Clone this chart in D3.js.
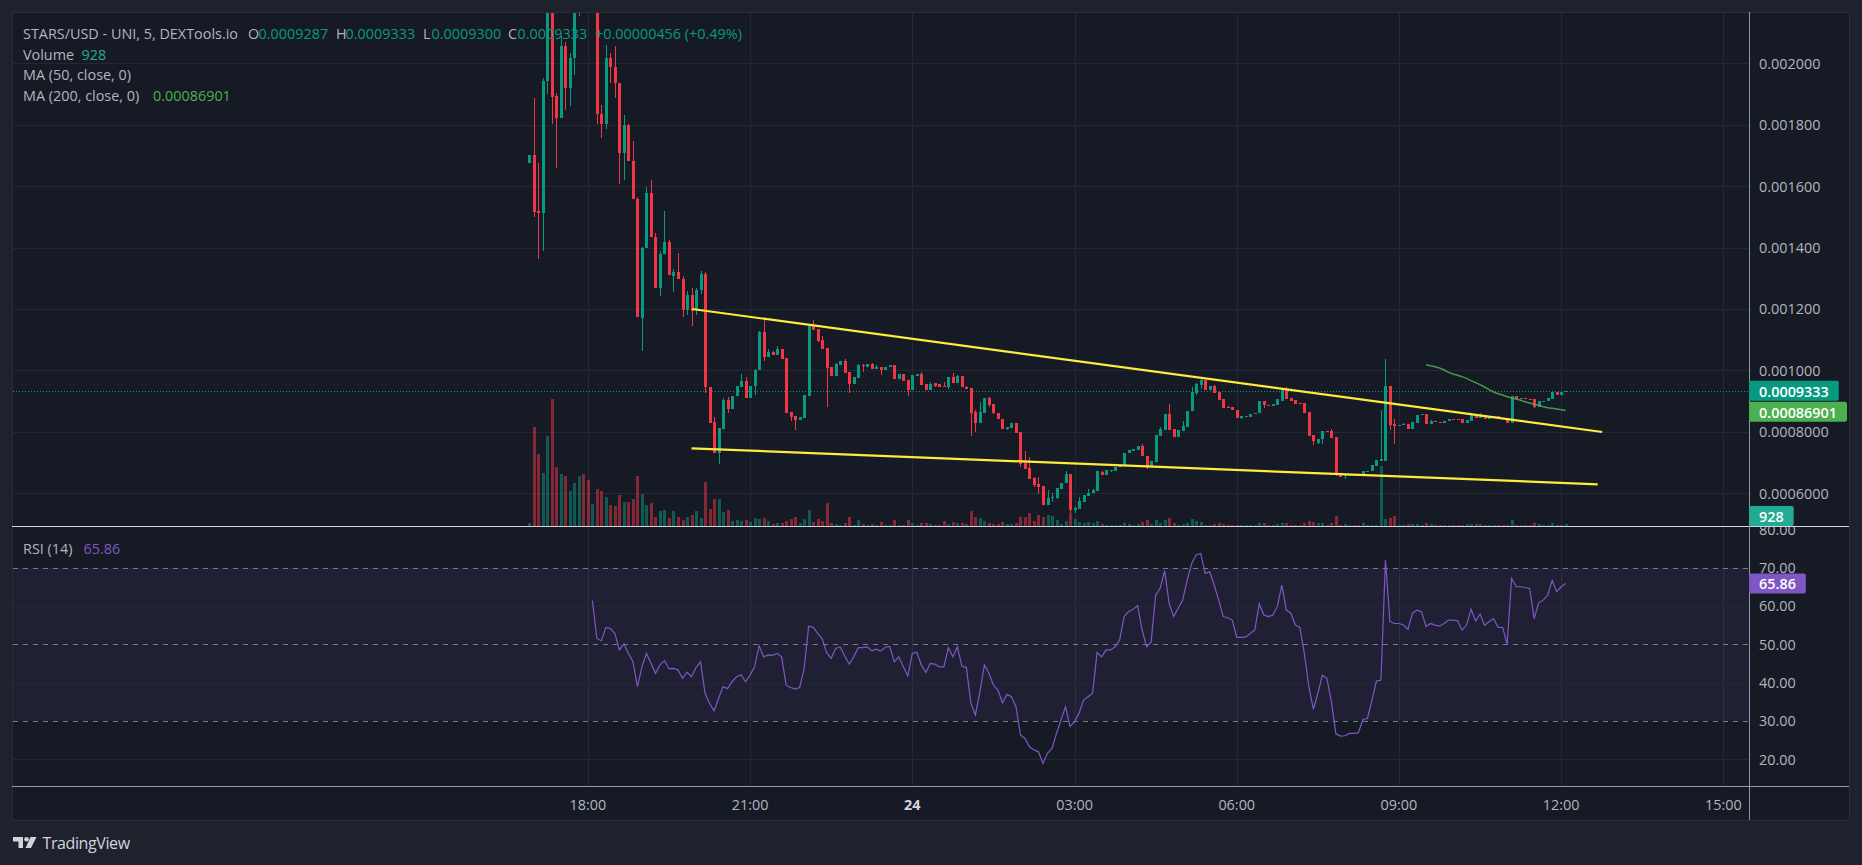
<!DOCTYPE html>
<html><head><meta charset="utf-8">
<script src="https://cdn.jsdelivr.net/npm/d3@7"></script>
<style>
html,body{margin:0;padding:0;background:#1e222d;overflow:hidden}
svg{display:block}
text{font-family:"Open Sans",Roboto,"Noto Sans",sans-serif}
</style></head><body>
<svg id="c" width="1862" height="865"></svg>
<script>
// ---------------- DATA ----------------
// prices are in millionths of USD (e.g. 1677 = 0.001677)
const PRICE_UNIT = 1e-6;
const symbolTitle = "STARS/USD - UNI, 5, DEXTools.io";
const legendOHLC = [["O","0.0009287"],["H","0.0009333"],["L","0.0009300"],["C","0.0009333"]];
const legendChange = "+0.00000456 (+0.49%)";
const volumeLast = "928";
const maLegends = ["MA (50, close, 0)", "MA (200, close, 0)"];
const maLastLabel = "0.00086901";
const rsiLegend = "RSI (14)";
const rsiLastLabel = "65.86";
const lastPriceLabel = "0.0009333";
const lastPrice = 933.3;

const startTime = new Date(2024,0,23,16,55);
const barMinutes = 5;

const open = [
1677,1701,1520,1511,1942,2230,1895,1821,2058,1921,
2018,2200,2320,2260,2210,2240,1836,1801,2018,1989,
1937,1707,1799,1682,1558,1171,1400,1579,1433,1269,
1379,1417,1308,1321,1299,1196,1245,1196,1261,1313,
946,831,731,810,903,874,916,946,966,911,
949,1000,1125,1044,1059,1050,1068,1039,864,851,
838,845,916,1144,1133,1098,1071,1009,981,1018,
1030,994,955,975,1018,1009,1020,1004,1012,1001,
1010,1016,972,988,968,936,981,988,955,936,
958,955,948,946,979,959,981,946,942,864,
829,862,910,890,860,842,809,812,827,799,
699,681,649,629,623,562,585,584,614,632,
662,544,549,571,590,599,605,670,660,671,
673,684,690,729,738,740,753,721,684,701,
786,805,857,809,784,803,816,866,927,953,
968,936,949,929,905,881,879,872,846,849,
849,857,860,901,887,883,888,901,938,909,
903,892,892,864,790,762,775,803,803,784,
662,655,655,660,660,655,670,671,688,705,
705,949,825,818,821,825,810,829,853,857,
825,834,831,829,834,840,840,840,829,836,
857,846,853,842,849,851,844,844,829,916,
907,909,907,905,881,899,899,907.5,929,920.5,
928.7];
const high = [
1701,1888,1676,1953,2290,2260,1904,2090,2071,2035,
2230,2350,2400,2310,2270,2250,1864,2060,2033,2056,
1937,1832,1803,1747,1565,1402,1598,1620,1448,1390,
1519,1424,1330,1383,1307,1258,1267,1269,1323,1320,
946,849,812,908,912,916,949,988,977,949,
1003,1127,1170,1068,1062,1079,1068,1039,864,851,
848,918,1144,1164,1133,1112,1071,1009,1025,1031,
1037,994,977,1020,1020,1020,1024,1017,1012,1012,
1018,1016,988,988,968,983,988,994,955,962,
960,955,962,977,991,986,981,949,942,870,
896,910,914,890,860,842,814,827,827,799,
738,716,653,653,623,610,599,616,634,671,
662,558,586,594,614,614,671,671,675,676,
686,692,729,740,744,753,760,721,703,790,
814,857,890,809,805,836,868,944,957,973,
968,949,953,929,905,883,879,872,851,851,
857,862,901,901,887,890,907,938,947,909,
903,892,892,864,790,777,801,803,810,784,
662,660,660,660,660,671,673,690,708,871,
1038,949,840,821,829,825,831,853,857,857,
837,834,831,836,840,840,840,840,838,862,
859,862,853,849,851,851,844,844,916,916,
909,909,907,905,899,901,910,929,929,929,
933.3];
const low = [
1677,1500,1364,1389,1899,1804,1658,1821,1847,1862,
1962,2156,2240,2190,2180,1802,1756,1786,1935,1886,
1606,1620,1682,1558,1174,1064,1400,1433,1269,1243,
1379,1310,1254,1296,1174,1180,1144,1180,1250,925,
829,731,694,810,862,874,916,946,911,911,
920,1000,1031,1044,1050,1050,1038,862,836,805,
838,845,916,1131,1092,1069,881,981,981,1018,
992,925,955,975,995,1009,1004,1004,985,1001,
1010,972,972,966,916,936,981,953,936,936,
946,946,944,940,959,959,944,940,787,799,
829,862,881,857,842,808,806,812,797,684,
677,647,621,597,562,562,571,579,614,632,
534,536,549,571,590,599,605,658,660,669,
673,684,690,729,738,740,719,677,684,701,
786,805,805,784,784,803,816,866,918,940,
936,936,927,903,877,877,870,844,842,849,
849,857,860,877,883,883,888,901,905,901,
890,890,862,786,758,760,760,799,779,655,
653,647,655,658,658,655,670,671,688,705,
705,805,760,818,821,810,810,829,853,825,
825,831,829,828,834,838,838,829,827,836,
844,846,842,842,849,842,840,829,829,905,
907,905,903,877,881,899,899,907.5,920.5,920.5,
928.7];
const close = [
1701,1517,1511,1942,2230,1891,1821,2058,1921,2018,
2200,2320,2260,2210,2240,1834,1801,2018,1987,1935,
1707,1799,1682,1558,1174,1400,1579,1433,1269,1379,
1417,1310,1321,1296,1196,1245,1194,1261,1313,946,
829,731,812,903,874,916,949,966,911,949,
1001,1125,1044,1059,1050,1068,1038,862,848,838,
848,918,1144,1131,1095,1069,1007,981,1020,1031,
992,955,977,1017,1014,1020,1004,1012,1001,1012,
1018,972,988,966,936,983,988,953,936,955,
950,946,944,977,959,981,944,940,862,829,
864,910,888,860,842,809,814,827,797,695,
677,647,625,619,562,584,588,616,634,662,
544,551,573,594,601,610,671,660,675,675,
686,692,729,740,744,753,719,681,703,790,
810,857,805,784,805,818,868,929,955,968,
936,949,927,903,877,877,870,844,851,851,
857,862,901,886,883,890,905,938,905,901,
890,890,862,786,771,775,801,799,779,658,
653,658,659,658,658,671,673,690,708,710,
949,822,818,821,825,810,831,853,857,825,
836,831,829,836,840,838,838,829,838,857,
844,853,842,849,851,842,840,829,916,905,
909,905,903,881,899,901,910,929,920.5,929,
933.3];
const volume = [
1200,39600,28800,21200,36000,50800,23600,20800,20000,14000,
17200,20000,20800,18400,8800,14800,14000,11600,8400,8000,
12400,9600,9600,10800,20000,12800,8400,9200,3600,6000,
6400,3200,6000,3600,2400,3600,4400,6000,3200,17600,
6800,10800,10800,5600,6400,2000,2400,2000,2400,1600,
3200,2800,3200,2000,800,1200,1200,2000,2800,3600,
1200,2800,6400,1600,2800,2000,9200,1200,800,450,
1200,3600,420,2400,800,380,800,450,1600,400,
420,2400,380,450,2400,1200,400,1200,1200,800,
400,450,2000,800,1600,1200,1200,800,6000,3600,
3200,2000,1200,800,800,1600,800,800,1200,3600,
3600,5200,2000,4400,3600,4400,4000,2400,800,2000,
5200,2800,1600,1200,1600,1200,2000,800,420,380,
450,400,1200,800,420,800,1600,2400,800,2400,
1200,2400,3200,1200,450,800,1200,2800,2000,1600,
400,420,800,1200,800,380,450,400,420,400,
450,380,1200,1200,420,400,800,1200,1200,450,
400,420,1200,2000,1600,1200,1200,400,1200,4000,
450,800,420,380,400,1200,450,420,400,24000,
2800,3200,4000,420,400,800,800,800,450,1200,
800,420,400,380,450,420,400,450,800,800,
800,800,420,400,450,380,420,400,2400,450,
400,420,380,1200,800,450,400,1200,420,450,
928];
// RSI(14) values, first value belongs to bar index 14
const rsiStart = 14;
const rsi = [
61.4,51.5,50.9,54.4,54.1,52.8,48.5,50.1,47.6,45.4,
38.9,44.1,47.6,45.0,42.4,44.6,45.7,43.6,43.7,43.3,
41.1,42.7,41.5,43.9,45.4,37.2,34.6,32.6,35.9,38.9,
38.4,40.2,41.5,42.0,40.2,42.0,44.1,49.6,46.7,47.2,
47.1,47.6,46.7,39.3,38.7,38.3,38.7,43.7,54.7,54.4,
52.8,51.4,47.8,46.3,48.9,49.3,46.9,44.8,46.7,49.1,
49.1,49.3,48.3,48.7,48.2,49.2,49.4,45.4,46.7,44.1,
41.7,47.6,47.9,44.6,42.6,45.0,44.8,44.1,44.1,49.1,
46.7,49.3,44.3,43.9,34.6,31.5,37.6,44.6,42.4,39.3,
38.0,34.7,36.9,36.3,33.7,26.3,25.4,23.2,22.4,21.9,
18.9,21.5,22.8,26.7,30.2,33.7,28.5,29.8,32.0,35.4,
36.3,37.2,47.8,46.7,48.5,48.5,49.3,51.1,57.2,58.5,
59.1,60.1,53.7,49.3,50.6,62.8,64.6,69.2,60.6,57.2,
59.4,61.5,66.7,71.1,73.3,73.7,68.5,68.9,65.4,61.5,
57.2,56.9,56.3,51.8,51.8,51.9,52.8,53.7,60.5,57.6,
57.2,57.6,59.8,65.4,58.9,58.1,55.0,54.4,47.6,38.9,
33.0,37.2,41.9,41.1,35.0,26.6,26.0,26.1,26.7,26.7,
26.9,30.4,30.6,35.4,40.4,40.6,72.0,55.9,55.4,55.4,
55.0,53.9,58.1,58.9,58.5,54.6,55.4,55.0,54.7,55.4,
56.3,56.3,56.1,53.7,55.0,59.1,56.1,57.9,54.9,55.9,
56.7,54.4,54.4,50.0,67.2,65.0,65.0,64.8,64.5,56.7,
60.8,61.5,62.8,66.6,63.7,65.0,65.86];
// MA(200) values, first value belongs to bar index 199
const maStart = 199;
const ma200 = [
1018.2,1015,1011.7,1007.4,1000.8,993.1,987.8,983.5,979.1,973.7,
966.1,959.5,953,945.4,936.7,929.1,923.7,919.4,913.9,909.6,
906.3,902,897.6,893.3,889,885.7,881.3,878.1,875.9,873.7,
871.6,869.01];
// hand-drawn trend lines [time, price]
const trendUpper = [[new Date(2024,0,23,19,55,30),1199.6],[new Date(2024,0,24,12,45,30),798.7]];
const trendLower = [[new Date(2024,0,23,19,55,0),745.6],[new Date(2024,0,24,12,40,30),628.3]];

const priceTicks = [600,800,1000,1200,1400,1600,1800,2000];
const priceTickLabels = ["0.0006000","0.0008000","0.001000","0.001200","0.001400","0.001600","0.001800","0.002000"];
const rsiTicks = [20,30,40,50,60,70,80];
const rsiTickLabels = ["20.00","30.00","40.00","50.00","60.00","70.00","80.00"];
const rsiBands = [70,50,30];
const timeTicks = [new Date(2024,0,23,18),new Date(2024,0,23,21),new Date(2024,0,24,0),new Date(2024,0,24,3),
                   new Date(2024,0,24,6),new Date(2024,0,24,9),new Date(2024,0,24,12),new Date(2024,0,24,15)];
const timeTickLabels = ["18:00","21:00","24","03:00","06:00","09:00","12:00","15:00"];

// ---------------- STYLE / LAYOUT ----------------
const UP="#089981", DN="#f23645", GRID="#242833", TXT="#b2b5be";
const PL=12, PR=1849, PT=12, PB=820, AX=1749, SEP=526.5, TAX=786.5;

const svg=d3.select("#c");
svg.append("rect").attr("width",1862).attr("height",865).attr("fill","#1e222d");
svg.append("rect").attr("x",PL+0.5).attr("y",PT+0.5).attr("width",PR-PL).attr("height",PB-PT)
  .attr("fill","#161a25").attr("stroke","#2a2e39");

const defs=svg.append("defs");
defs.append("clipPath").attr("id","clipMain").append("rect").attr("x",PL+1).attr("y",PT+1).attr("width",AX-PL-1).attr("height",SEP-PT-1.5);
defs.append("clipPath").attr("id","clipRsi").append("rect").attr("x",PL+1).attr("y",SEP+0.5).attr("width",AX-PL-1).attr("height",TAX-SEP-1);
defs.append("clipPath").attr("id","clipRsiAxis").append("rect").attr("x",AX+1).attr("y",SEP+0.5).attr("width",PR-AX-1).attr("height",TAX-SEP-1);

const endTime = new Date(+startTime + 230*barMinutes*60000);
const x = d3.scaleTime().domain([startTime,endTime]).range([529.3,1565.7]);
const y = d3.scaleLinear().domain([600,2000]).range([493,63.4]);
const yv = d3.scaleLinear().domain([0,60000]).range([526,376]);
const yr = d3.scaleLinear().domain([20,80]).range([759.1,529.3]);

const bars = open.map((o,i)=>({i,t:new Date(+startTime+i*barMinutes*60000),o,h:high[i],l:low[i],c:close[i],v:volume[i]}));
const px = d=>Math.round(x(d.t));

// grid (main)
const gGrid=svg.append("g").attr("shape-rendering","crispEdges");
gGrid.selectAll("line.hg").data(priceTicks).join("line")
  .attr("x1",PL+1).attr("x2",AX).attr("y1",d=>Math.round(y(d))+0.5).attr("y2",d=>Math.round(y(d))+0.5).attr("stroke",GRID);
gGrid.selectAll("line.vg").data(timeTicks).join("line")
  .attr("x1",d=>Math.round(x(d))+0.5).attr("x2",d=>Math.round(x(d))+0.5).attr("y1",PT+1).attr("y2",TAX).attr("stroke",GRID);

// RSI pane background band & lines
const gR=svg.append("g").attr("clip-path","url(#clipRsi)");
gR.append("rect").attr("x",PL+1).attr("width",AX-PL-1).attr("y",yr(70)).attr("height",yr(30)-yr(70)).attr("fill","rgba(126,87,194,0.1)");
gR.selectAll("line.rg").data([60,40,20]).join("line").attr("shape-rendering","crispEdges")
  .attr("x1",PL+1).attr("x2",AX).attr("y1",d=>Math.round(yr(d))+0.5).attr("y2",d=>Math.round(yr(d))+0.5).attr("stroke",GRID);
gR.selectAll("line.rb").data(rsiBands).join("line").attr("shape-rendering","crispEdges")
  .attr("x1",PL+1).attr("x2",AX).attr("y1",d=>Math.round(yr(d))+0.5).attr("y2",d=>Math.round(yr(d))+0.5)
  .attr("stroke","#787b86").attr("stroke-dasharray","5,5");
const rsiPts = rsi.map((v,k)=>({t:bars[rsiStart+k].t,v}));
gR.append("path").datum(rsiPts).attr("fill","none").attr("stroke","#7e57c2").attr("stroke-width",1.2)
  .attr("d",d3.line().x(d=>x(d.t)).y(d=>yr(d.v)));

// main pane
const gM=svg.append("g").attr("clip-path","url(#clipMain)");
// volume
gM.append("g").attr("shape-rendering","crispEdges").selectAll("rect").data(bars).join("rect")
  .attr("x",d=>px(d)-1).attr("width",3)
  .attr("y",d=>yv(d.v)).attr("height",d=>526-yv(d.v))
  .attr("fill",d=>d.c>=d.o?UP:DN).attr("opacity",0.5);
// current price line
gM.append("line").attr("x1",PL+1).attr("x2",AX).attr("y1",Math.round(y(lastPrice))+0.5).attr("y2",Math.round(y(lastPrice))+0.5)
  .attr("stroke",UP).attr("stroke-dasharray","1,2");
// candles
const gC=gM.append("g").attr("shape-rendering","crispEdges");
gC.selectAll("line").data(bars).join("line")
  .attr("x1",d=>px(d)+0.5).attr("x2",d=>px(d)+0.5).attr("y1",d=>y(d.h)).attr("y2",d=>y(d.l))
  .attr("stroke",d=>d.c>=d.o?UP:DN);
gC.selectAll("rect").data(bars).join("rect")
  .attr("x",d=>px(d)-1).attr("width",3)
  .attr("y",d=>y(Math.max(d.o,d.c))).attr("height",d=>Math.max(1,Math.abs(y(d.o)-y(d.c))))
  .attr("fill",d=>d.c>=d.o?UP:DN);
// MA200
const maPts = ma200.map((v,k)=>({t:bars[maStart+k].t,v}));
gM.append("path").datum(maPts).attr("fill","none").attr("stroke","#4caf50").attr("stroke-opacity",0.85).attr("stroke-width",1.5)
  .attr("d",d3.line().x(d=>x(d.t)).y(d=>y(d.v)));
// trend lines
[trendUpper,trendLower].forEach(tl=>{
  gM.append("line").attr("x1",x(tl[0][0])).attr("y1",y(tl[0][1])).attr("x2",x(tl[1][0])).attr("y2",y(tl[1][1]))
    .attr("stroke","#ffeb3b").attr("stroke-width",2.2);
});

// separators & axis line
svg.append("line").attr("x1",PL).attr("x2",PR).attr("y1",SEP).attr("y2",SEP).attr("stroke","#d1d4dc").attr("stroke-width",1);
svg.append("line").attr("x1",PL).attr("x2",PR).attr("y1",TAX).attr("y2",TAX).attr("stroke","#9598a1").attr("stroke-width",1);
svg.append("line").attr("x1",AX+0.5).attr("x2",AX+0.5).attr("y1",PT).attr("y2",PB).attr("stroke","#9598a1").attr("stroke-width",1);

// axis labels
const fs=14.4, lfs=14.4;
svg.append("g").selectAll("text").data(priceTicks).join("text")
  .attr("x",1759).attr("y",d=>y(d)).attr("dominant-baseline","central").attr("font-size",fs).attr("fill",TXT)
  .text((d,i)=>priceTickLabels[i]);
svg.append("g").attr("clip-path","url(#clipRsiAxis)").selectAll("text").data(rsiTicks).join("text")
  .attr("x",1759).attr("y",d=>yr(d)).attr("dominant-baseline","central").attr("font-size",fs).attr("fill",TXT)
  .text((d,i)=>rsiTickLabels[i]);
svg.append("g").selectAll("text").data(timeTicks).join("text")
  .attr("x",d=>x(d)).attr("y",804).attr("text-anchor","middle").attr("dominant-baseline","central")
  .attr("font-size",fs).attr("fill",(d,i)=>timeTickLabels[i]==="24"?"#d1d4dc":TXT)
  .attr("font-weight",(d,i)=>timeTickLabels[i]==="24"?"bold":"normal")
  .text((d,i)=>timeTickLabels[i]);

// badges
function badge(cy,label,color,minTop,maxBottom){
  const g=svg.append("g");
  const t=g.append("text").attr("x",1759).attr("font-size",fs).attr("font-weight",600).attr("fill","#ffffff")
    .attr("dominant-baseline","central").text(label);
  const w=t.node().getComputedTextLength()+20;
  let top=cy-10;
  if(minTop!==undefined) top=Math.max(top,minTop);
  if(maxBottom!==undefined) top=Math.min(top,maxBottom-20);
  t.attr("y",top+10.5);
  g.insert("rect","text").attr("x",AX).attr("y",top).attr("width",w).attr("height",20).attr("rx",2).attr("fill",color);
  return top+20;
}
const b1=badge(y(lastPrice),lastPriceLabel,UP);
badge(y(ma200[ma200.length-1]),maLastLabel,"#4caf50",b1+1);
badge(yv(+volumeLast),volumeLast,"#22ab94",undefined,526);
badge(yr(rsi[rsi.length-1]),rsiLastLabel,"#7e57c2");

// legend
function seg(parent,xx,yy,txt,col){parent.append("text").attr("x",xx).attr("y",yy).attr("dominant-baseline","central").attr("font-size",lfs).attr("fill",col).text(txt);}
const gL=svg.append("g");
seg(gL,23,33,symbolTitle,TXT);
const oX=[248,336,423,508], vX=[258.5,345.5,431.5,517.5];
legendOHLC.forEach((p,i)=>{seg(gL,oX[i],33,p[0],TXT);seg(gL,vX[i],33,p[1],UP);});
seg(gL,595,33,legendChange,UP);
seg(gL,23,54,"Volume",TXT); seg(gL,81.5,54,volumeLast,"#22ab94");
seg(gL,23,74.5,maLegends[0],TXT);
seg(gL,23,95,maLegends[1],TXT); seg(gL,153,95,maLastLabel,"#4caf50");
seg(gL,23,548,rsiLegend,TXT); seg(gL,83.5,548,rsiLastLabel,"#7e57c2");

// TradingView logo
const gLogo=svg.append("g").attr("fill","#d1d4dc");
gLogo.append("path").attr("d","M13 837h10v11h-4.5v-6.5h-5.5z");
gLogo.append("circle").attr("cx",26.5).attr("cy",839.3).attr("r",2.3);
gLogo.append("path").attr("d","M30.5 837h6l-5.5 11h-5.5z");
gLogo.append("text").attr("x",42.5).attr("y",843).attr("dominant-baseline","central").attr("font-size",16)
  .attr("font-weight",500).attr("letter-spacing",-0.4).text("TradingView");
</script>
</body></html>
